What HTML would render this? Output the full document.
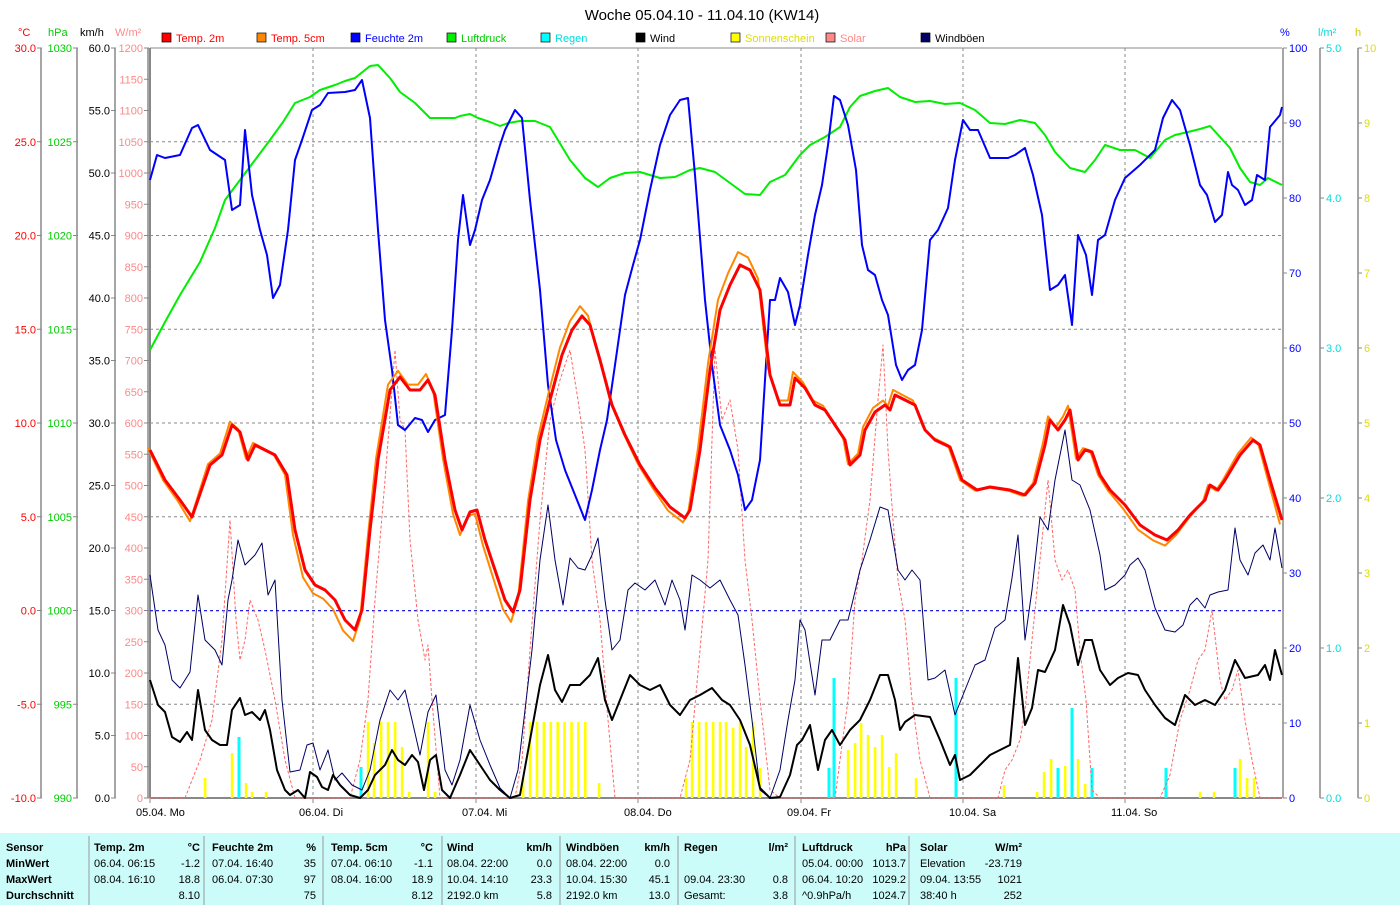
<!DOCTYPE html>
<html><head><meta charset="utf-8"><style>
body{margin:0;background:#fff;width:1400px;height:905px;overflow:hidden;font-family:"Liberation Sans",sans-serif}
svg text{font-family:"Liberation Sans",sans-serif}
</style></head><body>
<svg id="s" width="1400" height="905" xmlns="http://www.w3.org/2000/svg">
<rect x="0" y="0" width="1400" height="905" fill="#fff"/>
<text x="702" y="20" font-size="15" text-anchor="middle" fill="#000">Woche 05.04.10 - 11.04.10 (KW14)</text>
<g font-size="11">
<text x="18" y="36" fill="#f00">°C</text>
<text x="48" y="36" fill="#0c0">hPa</text>
<text x="80" y="36" fill="#000">km/h</text>
<text x="115" y="36" fill="#f88">W/m²</text>
<text x="1280" y="36" fill="#00f">%</text>
<text x="1318" y="36" fill="#0dd">l/m²</text>
<text x="1355" y="36" fill="#cc0">h</text>
</g>
<g id="leg" font-size="11"></g>
<g id="ax"></g>
<g id="plot"></g>
<rect x="0" y="833" width="1400" height="72" fill="#ccfcfa"/>
<g id="tbl" font-size="11"></g>
</svg>
<script>
const NS="http://www.w3.org/2000/svg";
function el(p,t,a,txt){const e=document.createElementNS(NS,t);for(const k in a)e.setAttribute(k,a[k]);if(txt!==undefined)e.textContent=txt;document.getElementById(p).appendChild(e);return e;}
// legend
const L=[["Temp. 2m","#f00","#f00",162],["Temp. 5cm","#f80","#f00",257],["Feuchte 2m","#00f","#00f",351],["Luftdruck","#0e0","#0c0",447],["Regen","#0ff","#0dd",541],["Wind","#000","#000",636],["Sonnenschein","#ff0","#dd0",731],["Solar","#f88","#f88",826],["Windböen","#006","#000",921]];
L.forEach(l=>{el("leg","rect",{x:l[3],y:33,width:9,height:9,fill:l[1],stroke:"#000","stroke-width":0.7});el("leg","text",{x:l[3]+14,y:42,fill:l[2]},l[0]);});
// axes
const T=48,B=798,X0=150,X1=1282;
[[41,"#f00",8,v=>(30-v*5).toFixed(1)],[77,"#0c0",8,v=>String(1030-v*5)],[115,"#000",12,v=>(60-v*5).toFixed(1)],[148,"#f88",24,v=>String(1200-v*50)]].forEach(a=>{
 el("ax","line",{x1:a[0],y1:T,x2:a[0],y2:B,stroke:"#888","stroke-width":1.5});
 for(let i=0;i<=a[2];i++){const y=T+(B-T)*i/a[2];el("ax","line",{x1:a[0]-4,y1:y,x2:a[0]+1,y2:y,stroke:"#888"});el("ax","text",{x:a[0]-5,y:y+4,"font-size":11,"text-anchor":"end",fill:a[1]},a[3](i));}
});
// right axes
[[1283,"#00f",10,v=>String(100-v*10),1],[1320,"#0dd",5,v=>(5-v).toFixed(1),1],[1358,"#dd0",10,v=>String(10-v),1]].forEach(a=>{
 el("ax","line",{x1:a[0],y1:T,x2:a[0],y2:B,stroke:"#888","stroke-width":1.5});
 for(let i=0;i<=a[2];i++){const y=T+(B-T)*i/a[2];el("ax","line",{x1:a[0],y1:y,x2:a[0]+4,y2:y,stroke:"#888"});el("ax","text",{x:a[0]+6,y:y+4,"font-size":11,fill:a[1]},a[3](i));}
});
el("ax","line",{x1:X0,y1:T,x2:X0,y2:B,stroke:"#888","stroke-width":2});
el("ax","line",{x1:X0,y1:B,x2:X1,y2:B,stroke:"#888","stroke-width":2});
el("ax","line",{x1:X0,y1:T,x2:X1,y2:T,stroke:"#888","stroke-width":1});
// grid
for(let i=1;i<8;i++){const y=T+(B-T)*i/8;el("ax","line",{x1:X0,y1:y,x2:X1,y2:y,stroke:"#888","stroke-dasharray":"3,3"});}
const days=[150,313,476,638,801,963,1125],dl=["05.04.  Mo","06.04.  Di","07.04.  Mi","08.04.  Do","09.04.  Fr","10.04.  Sa","11.04.  So"];
days.forEach((d,i)=>{if(i>0)el("ax","line",{x1:d,y1:T,x2:d,y2:B,stroke:"#888","stroke-dasharray":"3,3"});el("ax","line",{x1:d,y1:B,x2:d,y2:B+5,stroke:"#888"});el("ax","text",{x:d-14,y:816,"font-size":11,fill:"#000"},dl[i]);});
el("ax","line",{x1:X0,y1:610.75,x2:X1,y2:610.75,stroke:"#00f","stroke-dasharray":"3,3"});
function P(a){let s=[];for(let i=0;i<a.length;i+=2)s.push(a[i]+","+a[i+1]);return s.join(" ");}
function line(a,c,w,dash){const o={points:P(a),fill:"none",stroke:c,"stroke-width":w,"stroke-linejoin":"round"};if(dash)o["stroke-dasharray"]=dash;el("plot","polyline",o);}
// bars
const Y=[[205,778],[232,753],[246,783],[252,792],[266,792],[368,722],[374,743],[381,722],[388,722],[395,722],[402,747],[409,792],[428,722],[435,792],[523,778],[599,783],[686,778],[916,778],[848,750],[855,743],[861,723],[868,735],[875,747],[882,735],[889,767],[896,753],[1004,785],[1037,792],[1044,772],[1051,759],[1065,766],[1078,759],[1085,784],[1200,792],[1214,792],[1240,759],[1247,778],[1254,778]];
for(let x=530;x<=592;x+=6.9)Y.push([x,722]);
[692,699,706,713,720,726,733,740,753].forEach(x=>Y.push([x,x==733?728:722]));Y.push([746,747]);Y.push([760,768]);
Y.forEach(b=>el("plot","rect",{x:b[0]-1.2,y:b[1],width:2.6,height:B-b[1],fill:"#ff0"}));
[[239,737],[361,767],[829,768],[834,678],[956,678],[1058,768],[1072,708],[1092,768],[1166,768],[1235,768]].forEach(b=>el("plot","rect",{x:b[0]-1.5,y:b[1],width:3,height:B-b[1],fill:"#0ff"}));
// solar
const sol=[150,798,185,798,200,760,212,720,222,640,230,520,236,620,240,660,245,640,250,600,258,620,265,650,275,700,285,760,295,798,350,798,360,760,368,700,375,600,385,480,395,350,400,420,405,430,410,540,418,620,425,660,428,645,432,700,440,798,515,798,522,760,530,650,540,520,550,420,560,380,570,350,578,400,585,450,592,560,600,620,608,720,615,798,680,798,690,760,700,650,708,560,715,350,722,420,730,400,738,450,745,560,752,620,760,700,770,790,780,798,835,798,840,760,848,700,855,600,862,560,870,500,878,400,883,345,888,450,893,520,898,580,905,620,912,700,920,760,930,798,998,798,1005,770,1012,760,1020,740,1025,710,1032,640,1040,560,1048,480,1055,560,1062,580,1068,570,1075,590,1080,650,1086,700,1092,790,1100,798,1160,798,1170,775,1180,720,1190,690,1198,660,1205,650,1212,610,1220,680,1225,700,1232,690,1238,670,1245,720,1252,760,1260,798,1282,798];
line(sol,"#f66",1,"3,2");
const gust=[150,575,158,630,165,645,172,680,180,688,190,672,198,595,205,640,215,650,222,665,228,600,232,580,238,540,245,565,255,555,262,543,268,595,275,580,282,700,290,772,300,770,307,745,313,743,320,770,328,750,335,780,342,773,352,785,362,790,370,770,380,720,390,690,398,700,405,690,412,720,420,755,428,712,436,695,445,770,452,785,460,760,470,705,480,740,490,765,500,788,510,798,518,770,525,710,532,650,540,560,548,505,555,560,563,605,570,558,578,568,585,570,592,555,598,538,605,600,612,650,620,640,628,590,635,583,645,590,655,580,665,605,672,580,680,600,685,630,692,575,700,580,710,588,720,580,730,600,738,615,745,665,752,720,760,790,770,798,780,770,788,720,795,680,800,620,805,630,815,695,822,640,830,640,840,620,848,620,853,600,860,570,870,540,880,507,888,510,898,570,905,580,912,570,920,580,928,680,935,678,945,670,955,715,965,690,975,665,985,660,995,628,1005,620,1012,578,1018,535,1025,640,1032,590,1040,517,1048,530,1055,480,1065,430,1072,480,1080,485,1090,510,1100,555,1105,590,1115,585,1125,575,1130,565,1138,558,1145,570,1155,608,1165,630,1175,632,1183,625,1190,605,1197,598,1205,608,1210,595,1218,592,1228,590,1235,528,1240,560,1248,575,1255,553,1263,545,1270,560,1275,528,1282,568];
line(gust,"#006",1);
const wind=[150,680,158,705,165,712,172,737,180,742,187,732,192,740,198,690,205,730,212,740,220,745,227,745,232,710,240,698,245,715,252,712,260,720,265,710,270,730,277,770,285,790,290,795,298,790,305,798,310,772,317,777,322,787,328,790,333,775,340,785,350,795,360,798,368,790,375,775,385,765,392,750,398,760,405,765,412,755,418,762,424,790,430,760,436,755,442,790,450,798,460,775,470,750,480,765,490,780,500,790,510,798,520,795,530,740,540,685,548,655,555,690,562,702,570,685,580,685,590,675,598,658,605,700,612,720,620,700,630,675,640,685,650,690,660,685,670,705,680,715,690,700,700,695,712,688,722,700,730,705,740,720,750,745,760,788,770,798,780,797,790,775,797,745,802,740,810,725,818,770,825,740,832,730,840,745,850,730,860,720,870,700,880,675,888,675,895,700,900,730,905,722,915,715,930,717,940,740,950,765,955,755,960,780,970,775,980,765,990,755,1000,750,1010,745,1018,658,1025,725,1032,708,1038,670,1045,672,1055,650,1063,605,1070,625,1078,665,1085,640,1092,640,1100,670,1110,685,1118,678,1128,673,1138,675,1145,690,1155,705,1165,718,1175,725,1185,695,1195,705,1205,700,1215,705,1225,690,1235,660,1245,678,1258,675,1265,665,1270,680,1275,650,1282,675];
line(wind,"#000",2);
const pres=[150,350,165,322,180,295,200,262,215,228,225,200,240,180,255,160,270,140,283,122,295,103,310,97,320,90,335,85,345,81,355,78,370,66,378,65,390,78,400,92,415,103,430,118,455,118,460,116,470,114,478,118,490,122,500,126,508,123,520,121,535,121,550,127,570,160,585,178,598,187,610,178,625,173,640,172,650,175,660,178,675,177,690,170,700,168,715,172,730,183,745,194,760,195,770,182,785,175,800,155,810,145,825,137,840,127,850,107,860,96,875,91,888,88,900,97,915,102,930,101,945,104,960,103,975,110,990,123,1005,124,1020,120,1035,123,1045,135,1055,152,1070,168,1085,172,1095,160,1105,145,1120,150,1135,150,1150,158,1165,140,1175,135,1188,132,1200,129,1210,126,1220,137,1230,148,1240,168,1250,182,1260,185,1268,178,1282,185];
line(pres,"#0e0",2);
const hum=[150,180,157,155,165,158,180,155,192,128,198,125,210,150,225,160,232,210,240,205,245,130,252,195,260,230,267,255,273,298,280,285,288,230,295,160,302,140,312,110,320,105,328,93,345,92,355,90,362,80,370,118,378,230,385,320,392,370,398,425,405,430,415,418,422,420,428,432,435,420,445,415,452,330,458,240,463,195,470,245,475,230,482,200,490,180,500,145,505,130,515,110,522,118,530,200,540,290,548,385,556,440,565,470,575,495,585,520,592,490,600,450,607,420,615,365,625,295,633,265,640,240,650,190,660,145,670,115,680,100,688,98,695,175,705,300,712,365,720,425,730,450,738,475,745,510,752,500,760,460,770,300,775,300,780,278,788,292,795,325,800,305,808,255,815,215,822,185,828,145,834,96,840,100,848,125,856,170,862,245,868,270,875,275,882,300,888,315,896,365,902,380,908,370,915,365,922,330,930,240,938,230,948,208,955,160,963,120,970,130,978,130,990,158,1008,158,1015,155,1025,148,1033,175,1042,215,1050,290,1058,285,1065,275,1072,325,1078,235,1086,255,1092,295,1098,240,1105,235,1115,200,1125,178,1140,165,1155,150,1163,118,1172,100,1180,110,1190,145,1200,185,1207,195,1215,222,1222,215,1228,172,1232,185,1238,190,1245,205,1252,200,1257,175,1265,180,1270,127,1280,115,1282,107];
line(hum,"#00f",2);
const t2=[150,450,165,480,180,500,192,517,210,465,222,455,232,425,240,432,248,460,255,445,265,450,275,455,287,475,295,530,305,570,315,585,325,590,335,600,345,620,355,630,362,610,370,530,378,460,390,390,400,377,410,390,420,390,428,380,435,395,445,460,455,510,462,530,470,512,477,510,485,540,495,570,505,600,513,612,520,590,530,500,540,440,550,400,562,355,572,330,582,316,590,325,600,360,612,405,625,435,640,465,655,488,670,507,685,518,690,510,700,450,710,370,720,310,730,285,740,265,750,270,760,290,770,375,780,405,790,405,795,378,805,388,815,405,825,410,835,425,845,440,850,465,860,455,865,430,875,412,885,405,890,410,895,395,905,400,915,405,925,430,935,440,950,447,962,480,977,490,990,487,1010,490,1025,495,1035,483,1045,445,1050,420,1058,430,1065,420,1070,410,1078,460,1085,450,1092,452,1100,475,1110,490,1125,505,1140,525,1155,535,1167,540,1178,530,1190,515,1205,500,1210,485,1218,490,1225,480,1240,455,1253,440,1260,445,1270,480,1282,520];
const t5=t2.map((v,i)=>i%2?v+(v-480)*0.06+(v>500?2:0):v-2);
line(t5,"#f80",2);
line(t2,"#f00",3);
// table
const cols=[89,204,323,442,560,678,795,909];
cols.forEach(x=>el("tbl","line",{x1:x,y1:836,x2:x,y2:905,stroke:"#999"}));
const rows=[847,863,879,895];
function t(x,y,s,anc,b){el("tbl","text",{x:x,y:y+4,"text-anchor":anc||"start","font-weight":b?"bold":"normal",fill:"#000"},s);}
["Sensor","MinWert","MaxWert","Durchschnitt"].forEach((s,i)=>t(6,rows[i],s,"start",true));
const C=[[94,200,"Temp. 2m","°C",["06.04.  06:15","-1.2"],["08.04.  16:10","18.8"],["","8.10"]],
[212,316,"Feuchte 2m","%",["07.04.  16:40","35"],["06.04.  07:30","97"],["","75"]],
[331,433,"Temp. 5cm","°C",["07.04.  06:10","-1.1"],["08.04.  16:00","18.9"],["","8.12"]],
[447,552,"Wind","km/h",["08.04.  22:00","0.0"],["10.04.  14:10","23.3"],["2192.0 km","5.8"]],
[566,670,"Windböen","km/h",["08.04.  22:00","0.0"],["10.04.  15:30","45.1"],["2192.0 km","13.0"]],
[684,788,"Regen","l/m²",["",""],["09.04.  23:30","0.8"],["Gesamt:","3.8"]],
[802,906,"Luftdruck","hPa",["05.04.  00:00","1013.7"],["06.04.  10:20","1029.2"],["^0.9hPa/h","1024.7"]],
[920,1022,"Solar","W/m²",["Elevation","-23.719"],["09.04.  13:55","1021"],["38:40 h","252"]]];
C.forEach(c=>{t(c[0],rows[0],c[2],"start",true);t(c[1],rows[0],c[3],"end",true);for(let r=1;r<4;r++){t(c[0],rows[r],c[3+r][0]);t(c[1],rows[r],c[3+r][1],"end");}});
</script>
</body></html>
